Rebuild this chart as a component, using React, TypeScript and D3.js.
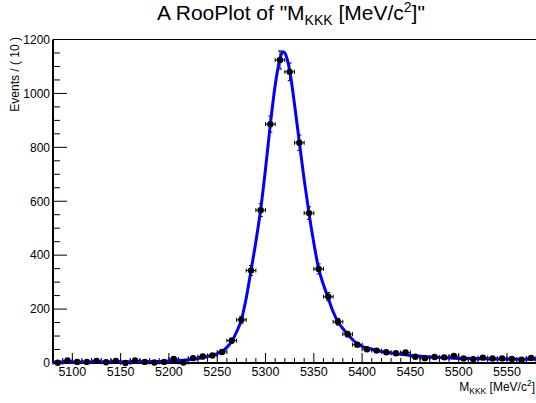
import React from "react";
import * as d3 from "d3";

// ---- data ----
const binCenters = [
  5085, 5095, 5105, 5115, 5125, 5135, 5145, 5155, 5165, 5175,
  5185, 5195, 5205, 5215, 5225, 5235, 5245, 5255, 5265, 5275,
  5285, 5295, 5305, 5315, 5325, 5335, 5345, 5355, 5365, 5375,
  5385, 5395, 5405, 5415, 5425, 5435, 5445, 5455, 5465, 5475,
  5485, 5495, 5505, 5515, 5525, 5535, 5545, 5555, 5565, 5575,
];
const counts = [
  1, 9, 4, 4, 8, 3, 8, 0, 9, 4,
  2, 4, 15, 2, 18, 24, 28, 41, 83, 160,
  343, 567, 886, 1124, 1080, 817, 556, 349, 246, 153,
  107, 68, 51, 46, 40, 36, 39, 23, 18, 22,
  21, 26, 17, 14, 20, 17, 17, 15, 12, 19,
];
const curveMass = [
  5080, 5120, 5160, 5190, 5205, 5220, 5230, 5240, 5250, 5255,
  5260, 5265, 5270, 5275, 5280, 5285, 5290, 5295, 5300, 5305,
  5310, 5315, 5318, 5320, 5325, 5330, 5335, 5340, 5345, 5350,
  5355, 5360, 5365, 5370, 5375, 5380, 5385, 5390, 5395, 5400,
  5410, 5420, 5430, 5440, 5450, 5460, 5470, 5480, 5500, 5520,
  5540, 5560, 5580,
];
const curveValue = [
  4, 4, 4.5, 5.5, 8, 12, 17, 24, 35, 43,
  58, 80, 115, 160, 240, 343, 450, 570, 720, 885,
  1030, 1130, 1155, 1150, 1085, 960, 820, 680, 556, 445,
  350, 290, 240, 190, 153, 128, 107, 87, 72, 62,
  51, 43, 37, 32, 28, 25, 22, 20, 17, 16,
  15, 14, 14,
];
const xTickLabels = [5100, 5150, 5200, 5250, 5300, 5350, 5400, 5450, 5500, 5550];
const yTickLabels = [0, 200, 400, 600, 800, 1000, 1200];
const binWidth = 10;

const W = 536;
const H = 403;
const L = 53, R = 536, T = 39.5, B = 363;
const FONT = "'Liberation Sans', Arial, Helvetica, sans-serif";

export default function App() {
  const x = d3.scaleLinear().domain([5080, 5580]).range([L, R]);
  const y = d3.scaleLinear().domain([0, 1200]).range([B, T]);

  const xMinor = d3.range(5080, 5581, 10).filter((v) => v % 50 !== 0);
  const yMinor = d3.range(0, 1201, 50).filter((v) => v % 200 !== 0);

  const pts = curveMass.map((m, i) => [m, curveValue[i]] as [number, number]);
  const line = d3
    .line<[number, number]>()
    .x((d) => x(d[0]))
    .y((d) => y(d[1]))
    .curve(d3.curveMonotoneX);

  return (
    <svg width={W} height={H} style={{ position: "absolute", left: 0, top: 0, background: "#fff" }} fontFamily={FONT}>
      <rect x={0} y={0} width={W} height={H} fill="#fff" />
      {/* title */}
      <text x={291} y={20} fontSize={21} textAnchor="middle" fill="#000">
        A RooPlot of "M
        <tspan fontSize={14} dy={4.5}>KKK</tspan>
        <tspan dy={-4.5}> [MeV/c</tspan>
        <tspan fontSize={14} dy={-8}>2</tspan>
        <tspan dy={8}>]"</tspan>
      </text>

      {/* frame */}
      <line x1={L} x2={R} y1={T} y2={T} stroke="#000" strokeWidth={1} />
      <line x1={L} x2={L} y1={T} y2={B} stroke="#000" strokeWidth={2} />
      <line x1={L} x2={R} y1={B} y2={B} stroke="#000" strokeWidth={2} />

      {/* y ticks */}
      {yTickLabels.map((v) => (
        <g key={"yt" + v}>
          <line x1={L} x2={L + 14} y1={y(v)} y2={y(v)} stroke="#000" strokeWidth={1} />
          <text x={L - 3} y={y(v)} dy="0.36em" fontSize={12} textAnchor="end" fill="#000">
            {v}
          </text>
        </g>
      ))}
      {yMinor.map((v) => (
        <line key={"ym" + v} x1={L} x2={L + 7} y1={y(v)} y2={y(v)} stroke="#000" strokeWidth={1} />
      ))}

      {/* x ticks */}
      {xTickLabels.map((v) => (
        <g key={"xt" + v}>
          <line x1={x(v)} x2={x(v)} y1={B} y2={B - 10} stroke="#000" strokeWidth={1} />
          <text x={x(v)} y={376} fontSize={12.5} textAnchor="middle" fill="#000">
            {v}
          </text>
        </g>
      ))}
      {xMinor.map((v) => (
        <line key={"xm" + v} x1={x(v)} x2={x(v)} y1={B} y2={B - 5} stroke="#000" strokeWidth={1} />
      ))}

      {/* axis titles */}
      <text x={535} y={391} fontSize={12} textAnchor="end" fill="#000">
        M<tspan fontSize={8.5} dy={3}>KKK</tspan>
        <tspan dy={-3}> [MeV/c</tspan>
        <tspan fontSize={8.5} dy={-5}>2</tspan>
        <tspan dy={5}>]</tspan>
      </text>
      <text
        transform={`translate(19, 37) rotate(-90)`}
        fontSize={12}
        textAnchor="end"
        fill="#000"
      >
        Events / ( 10 )
      </text>

      {/* data points */}
      {binCenters.map((c, i) => {
        const n = counts[i];
        const e = Math.sqrt(n);
        const cx = x(c);
        const cy = y(n);
        const xl = x(c - binWidth / 2);
        const xr = x(c + binWidth / 2);
        const yt = y(n + e);
        const yb = y(Math.max(0, n - e));
        return (
          <g key={"p" + i} stroke="#000" strokeWidth={1}>
            <line x1={xl} x2={xr} y1={cy} y2={cy} />
            <line x1={xl} x2={xl} y1={cy - 2} y2={cy + 2} />
            <line x1={xr} x2={xr} y1={cy - 2} y2={cy + 2} />
            <line x1={cx} x2={cx} y1={yt} y2={yb} />
            <line x1={cx - 2} x2={cx + 2} y1={yt} y2={yt} />
            <line x1={cx - 2} x2={cx + 2} y1={yb} y2={yb} />
          </g>
        );
      })}
      {/* curve */}
      <path d={line(pts) || ""} fill="none" stroke="#0000ff" strokeWidth={3} />
      {binCenters.map((c, i) => (
        <circle key={"c" + i} cx={x(c)} cy={y(counts[i])} r={3.2} fill="#000" />
      ))}
    </svg>
  );
}
